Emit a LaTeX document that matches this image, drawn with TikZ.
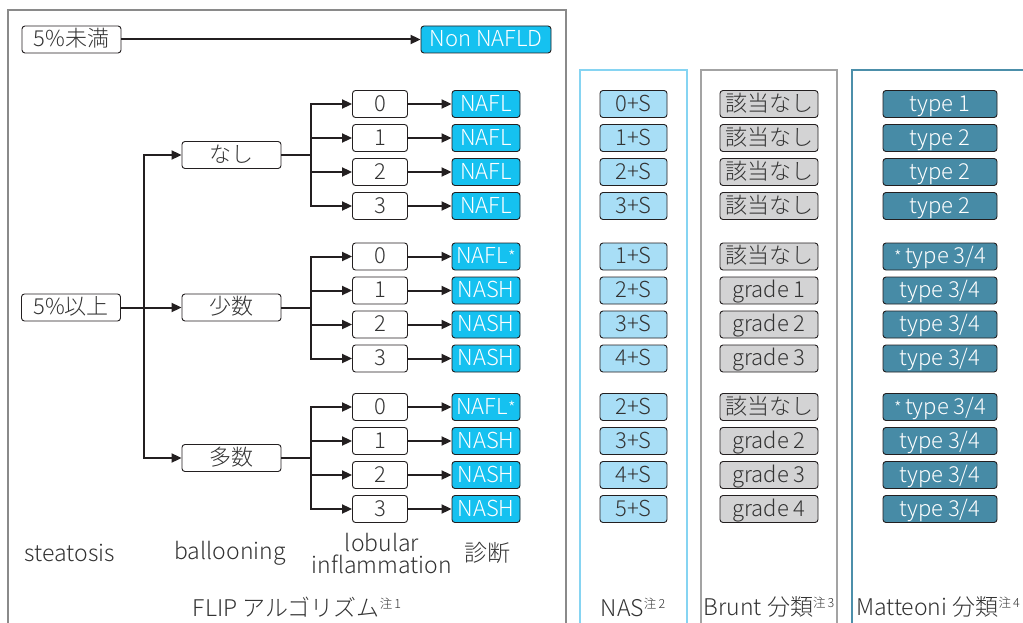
\documentclass[tikz,border=0pt]{standalone}
\usepackage{fontspec}
\setmainfont{Noto Sans CJK JP}[UprightFont={* Light}, BoldFont={*}]
\usetikzlibrary{arrows.meta}
\definecolor{cyanbox}{HTML}{15C1F0}
\definecolor{nasfill}{HTML}{A8DEF6}
\definecolor{nasframe}{HTML}{86D4F2}
\definecolor{bruntfill}{HTML}{D3D3D4}
\definecolor{bruntframe}{HTML}{A3A3A3}
\definecolor{mattfill}{HTML}{478BA6}
\definecolor{mattframe}{HTML}{4C8FAA}
\definecolor{leftframe}{HTML}{8A8A8A}
\definecolor{ink}{HTML}{231F20}
\definecolor{txt}{HTML}{333333}
\newcommand\bxfont{\fontsize{22}{24}\selectfont}
\newcommand\lbfont{\fontsize{23}{25}\selectfont}
\newcommand\astr{\fontsize{17}{17}\selectfont *}
\newcommand\chu[1]{\raisebox{8pt}{\fontsize{12.5}{12.5}\selectfont 注\,#1}}
\tikzset{
  wbox/.style={draw=ink, line width=0.9pt, rounded corners=3pt, fill=white, text=txt,
    minimum height=27pt, inner sep=0pt, text height=15.5pt, text depth=1pt, font=\bxfont, anchor=center},
  diagbox/.style={wbox, fill=cyanbox, text=white, minimum width=68pt},
  nasbox/.style={wbox, fill=nasfill, minimum width=67pt},
  bruntbox/.style={wbox, fill=bruntfill, minimum width=98pt},
  mattbox/.style={wbox, fill=mattfill, text=white, minimum width=114pt},
  inflbox/.style={wbox, minimum width=55pt},
  midbox/.style={wbox, minimum width=99pt},
  ln/.style={draw=ink, line width=2pt},
  arr/.style={ln, -{Triangle[length=10pt,width=9pt]}},
  frame/.style={line width=2pt},
  lbl/.style={font=\lbfont, text=txt, inner sep=0pt, align=center},
}
\begin{document}
\begin{tikzpicture}[x=1pt,y=-1pt]
\fill[white] (0,0) rectangle (1023,623);
\useasboundingbox (0,0) rectangle (1023,623);
% frames
\draw[frame, leftframe] (8,630) -- (8,10) -- (566,10) -- (566,630);
\draw[frame, nasframe] (580,630) -- (580,70) -- (687,70) -- (687,630);
\draw[frame, bruntframe] (701,630) -- (701,70) -- (837,70) -- (837,630);
\draw[frame, mattframe] (852,630) -- (852,70) -- (1030,70);
% coordinates
\coordinate (vx) at (144,0);
\coordinate (bx) at (311,0);
% top row
\node[midbox] (n5) at (71.5,39.5) {5\%未満};
\node[diagbox, minimum width=130pt] (nonnafld) at (486,39.5) {Non NAFLD};
\draw[arr] (n5.east) -- (nonnafld.west);
% steatosis / ballooning
\node[midbox] (s5) at (71,307.5) {5\%以上};
\node[midbox] (nashi) at (231.5,155) {なし};
\node[midbox] (shosu) at (231.5,307.5) {少数};
\node[midbox] (tasu) at (231.5,458) {多数};
\draw[arr] (vx|-tasu) -- (vx|-nashi) -- (nashi.west);
\draw[arr] (vx|-nashi) -- (vx|-tasu) -- (tasu.west);
\draw[arr] (s5.east) -- (shosu.west);
% inflammation rows
\foreach \g/\base in {1/104,2/256.5,3/407}{
  \foreach \k in {0,1,2,3}{
    \node[inflbox] (i\g\k) at (380,{\base+34*\k}) {\k};
  }
}
% diagnosis
\foreach \k/\t in {0/NAFL,1/NAFL,2/NAFL,3/NAFL}{
  \node[diagbox] (d1\k) at (486,{104+34*\k}) {\t};
}
\foreach \g/\base in {2/256.5,3/407}{
  \foreach \k/\t in {0/{NAFL\astr},1/NASH,2/NASH,3/NASH}{
    \node[diagbox] (d\g\k) at (486,{\base+34*\k}) {\t};
  }
}
% connectors of branches
\foreach \g/\m in {1/nashi,2/shosu,3/tasu}{
  \draw[ln] (\m.east) -- (bx|-\m);
  \draw[arr] (bx|-i\g3) -- (bx|-i\g0) -- (i\g0.west);
  \draw[arr] (bx|-i\g0) -- (bx|-i\g3) -- (i\g3.west);
  \foreach \k in {1,2}{
    \draw[arr] (bx|-i\g\k) -- (i\g\k.west);
  }
  \foreach \k in {0,1,2,3}{
    \draw[arr] (i\g\k.east) -- (d\g\k.west);
  }
}
% NAS column
\foreach \k/\t in {0/0+S,1/1+S,2/2+S,3/3+S}{
  \node[nasbox] (a1\k) at (633.5,{104+34*\k}) {\t};
}
\foreach \k/\t in {0/1+S,1/2+S,2/3+S,3/4+S}{
  \node[nasbox] (a2\k) at (633.5,{256.5+34*\k}) {\t};
}
\foreach \k/\t in {0/2+S,1/3+S,2/4+S,3/5+S}{
  \node[nasbox] (a3\k) at (633.5,{407+34*\k}) {\t};
}
% Brunt column
\foreach \k/\t in {0/該当なし,1/該当なし,2/該当なし,3/該当なし}{
  \node[bruntbox] (b1\k) at (769,{104+34*\k}) {\t};
}
\foreach \k/\t in {0/該当なし,1/grade\ 1,2/grade\ 2,3/grade\ 3}{
  \node[bruntbox] (b2\k) at (769,{256.5+34*\k}) {\t};
}
\foreach \k/\t in {0/該当なし,1/grade\ 2,2/grade\ 3,3/grade\ 4}{
  \node[bruntbox] (b3\k) at (769,{407+34*\k}) {\t};
}
% Matteoni column
\foreach \k/\t in {0/type\ 1,1/type\ 2,2/type\ 2,3/type\ 2}{
  \node[mattbox] (m1\k) at (940,{104+34*\k}) {\t};
}
\foreach \g/\base in {2/256.5,3/407}{
  \foreach \k/\t in {0/{{\astr}\,type 3/4},1/{type 3/4},2/{type 3/4},3/{type 3/4}}{
    \node[mattbox] (m\g\k) at (940,{\base+34*\k}) {\t};
  }
}
% bottom labels
\node[lbl] (lsteat) at (70,553) {steatosis};
\node[lbl] (lball) at (230,553) {ballooning};
\node[lbl] (llob) at (382,554) {lobular\\[-3pt]inflammation};
\node[lbl] (ldiag) at (487,553) {診断};
\node[lbl] (lflip) at (297,607) {FLIP アルゴリズム\chu{1}};
\node[lbl] (lnas) at (633,607) {NAS\chu{2}};
\node[lbl] (lbrunt) at (769,607) {Brunt 分類\chu{3}};
\node[lbl] (lmatt) at (938,607) {Matteoni 分類\chu{4}};
\end{tikzpicture}
\end{document}
